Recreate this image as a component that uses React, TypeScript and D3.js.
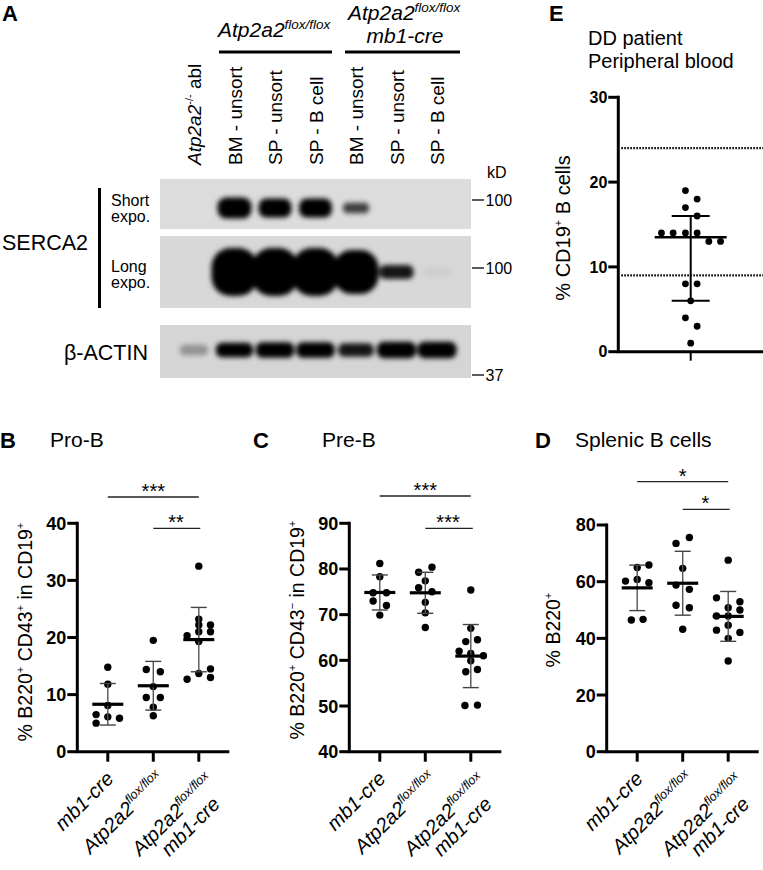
import React from 'react';
import * as d3 from 'd3';

const FONT = "'Liberation Sans', Arial, Helvetica, sans-serif";

// ---------- Panel A : western blot (band intensities, 0..1) ----------
const laneIds = ['ko', 'f_bm', 'f_sp', 'f_spb', 'c_bm', 'c_sp', 'c_spb'];
const laneNames = ['', 'BM - unsort', 'SP - unsort', 'SP - B cell', 'BM - unsort', 'SP - unsort', 'SP - B cell'];
const serca2Short = [0, 1.0, 0.92, 0.92, 0.42, 0, 0];
const serca2Long = [0, 1.0, 1.0, 1.0, 0.95, 0.36, 0.02];
const betaActin = [0.25, 0.82, 0.9, 0.9, 0.72, 0.95, 0.95];
const kdMarks = ['100', '100', '37'];

// ---------- Panel B : Pro-B (% B220+ CD43+ in CD19+) ----------
const proB_mb1 = [14.8, 11.8, 8.1, 6.5, 6.1, 5.85, 5.0];
const proB_mb1Slots = [0, 0, 0, -1, 0, 1, -1];
const proB_flox = [19.5, 14.4, 14.0, 11.4, 9.5, 9.5, 7.8, 6.3];
const proB_floxSlots = [0, -0.6, 0.6, 0, -0.6, 0.6, 0, 0];
const proB_cko = [32.5, 23.2, 22.2, 22.2, 21.0, 21.0, 20.3, 19.3, 14.5, 13.7, 13.0, 12.7];
const proB_ckoSlots = [0, 0, 0, 1, 0, 1, -1, 0, 1, 0, 1, -1];
const proBTicks = [0, 10, 20, 30, 40];

// ---------- Panel C : Pre-B (% B220+ CD43- in CD19+) ----------
const preB_mb1 = [81.2, 78.3, 74.8, 74.8, 73.0, 72.0, 69.9];
const preB_mb1Slots = [0, 0, -0.57, 0.57, -0.57, 0.57, 0];
const preB_flox = [80.4, 79.3, 77.4, 75.9, 75.0, 72.7, 70.4, 67.2];
const preB_floxSlots = [0.57, -0.57, 0, -0.57, 0.57, 0, 0, 0];
const preB_cko = [75.4, 67.0, 64.5, 64.1, 62.0, 61.5, 61.0, 59.9, 58.0, 57.5, 50.2, 50.1];
const preB_ckoSlots = [0, 0, 0.57, -0.43, -1, 0, 1.08, 0, 0.57, -0.43, 0.57, -0.5];
const preBTicks = [40, 50, 60, 70, 80, 90];

// ---------- Panel D : Splenic B cells (% B220+) ----------
const spl_mb1 = [65.9, 65.0, 60.8, 60.2, 59.6, 46.7, 46.5];
const spl_mb1Slots = [1, 0, 0, -1, 1, 0.5, -0.5];
const spl_flox = [75.6, 73.5, 64.7, 58.8, 57.3, 51.7, 50.8, 43.2];
const spl_floxSlots = [0.57, -0.57, 0, -0.57, 0.57, -0.57, 0.57, 0];
const spl_cko = [67.6, 54.3, 52.9, 50.8, 50.0, 47.9, 47.9, 44.6, 42.9, 42.1, 40.0, 32.0];
const spl_ckoSlots = [0, -1, 1, 0, 1, -1, 0, 0, -1, 1, 0, 0];
const splTicks = [0, 20, 40, 60, 80];

// ---------- Panel E : DD patient peripheral blood (% CD19+ B cells) ----------
const ddValues = [19, 18, 17, 16, 14, 14, 14, 14, 13, 13, 8, 8, 6, 4, 3, 1];
const ddSlots = [-0.45, 0.55, -0.45, 0.55, -2.5, -1.5, -0.45, 0.55, 1.55, 2.55, -0.45, 0.55, 0, -0.45, 0.55, 0];
const ddSummary = [13.5, 6, 16]; // median, lower, upper
const ddNormalRange = [24, 9];
const ddTicks = [0, 10, 20, 30];

const SLOT = 11.7;

type Part = { t: string; sup?: boolean };

function rich(parts: Part[], supSize: number, shift: number) {
  let cur = 0;
  return parts.map((p, i) => {
    const target = p.sup ? -shift : 0;
    const dy = target - cur;
    cur = target;
    return (
      <tspan key={i} dy={dy || undefined} fontSize={p.sup ? supSize : undefined}>
        {p.t}
      </tspan>
    );
  });
}

const floxLabel: Part[] = [{ t: 'Atp2a2' }, { t: 'flox/flox', sup: true }];

interface Series { values: number[]; slots: number[] }
interface Sig { a: number; b: number; y: number; label: string; extra?: number }
interface PanelCfg {
  axisX: number;
  yTop: number;
  yBottom: number;
  domain: [number, number];
  ticks: number[];
  series: Series[];
  sig: Sig[];
  yLabel: Part[];
  yLabelX: number;
  yLabelY: number;
  letter: string;
  letterX: number;
  title: string;
  titleX: number;
}

function CategoryLabels({ xs, y }: { xs: number[]; y: number }) {
  const fs = 20;
  return (
    <g fontStyle="italic" fontSize={fs} fill="#000">
      <g transform={`translate(${xs[0] + 7},${y}) rotate(-45)`}>
        <text textAnchor="end">mb1-cre</text>
      </g>
      <g transform={`translate(${xs[1] + 12},${y}) rotate(-45)`}>
        <text textAnchor="end">{rich(floxLabel, 12.5, 8)}</text>
      </g>
      <g transform={`translate(${xs[2] + 16},${y + 2}) rotate(-45)`}>
        <text textAnchor="end">{rich(floxLabel, 12.5, 8)}</text>
        <text textAnchor="end" x={-12} y={21}>mb1-cre</text>
      </g>
    </g>
  );
}

function ScatterPanel({ p }: { p: PanelCfg }) {
  const y = d3.scaleLinear().domain(p.domain).range([p.yBottom, p.yTop]);
  const x = d3.scalePoint<number>().domain([0, 1, 2]).range([p.axisX + 30.5, p.axisX + 121.5]);
  const axisEnd = p.axisX + 152;
  const xs = [0, 1, 2].map((i) => x(i) as number);
  return (
    <g>
      <text x={p.letterX} y={448} fontSize={22} fontWeight="bold">{p.letter}</text>
      <text x={p.titleX} y={447} fontSize={21}>{p.title}</text>
      {p.sig.map((s, i) => (
        <g key={i}>
          <line x1={xs[s.a]} x2={xs[s.b] + (s.extra || 0)} y1={s.y} y2={s.y} stroke="#222" strokeWidth={1.3} />
          <text x={(xs[s.a] + xs[s.b]) / 2} y={s.y + 1} fontSize={20} textAnchor="middle">{s.label}</text>
        </g>
      ))}
      {p.series.map((s, gi) => {
        const cx = xs[gi];
        const m = d3.mean(s.values) as number;
        const sd = d3.deviation(s.values) as number;
        return (
          <g key={gi}>
            {s.values.map((v, i) => (
              <circle key={i} cx={cx + s.slots[i] * SLOT} cy={y(v)} r={3.7} fill="#000" />
            ))}
            <line x1={cx} x2={cx} y1={y(m + sd)} y2={y(m - sd)} stroke="#555" strokeWidth={1.4} />
            <line x1={cx - 8} x2={cx + 8} y1={y(m + sd)} y2={y(m + sd)} stroke="#444" strokeWidth={1.4} />
            <line x1={cx - 8} x2={cx + 8} y1={y(m - sd)} y2={y(m - sd)} stroke="#444" strokeWidth={1.4} />
            <line x1={cx - 15.5} x2={cx + 15.5} y1={y(m)} y2={y(m)} stroke="#000" strokeWidth={3.2} />
          </g>
        );
      })}
      <line x1={p.axisX} x2={p.axisX} y1={p.yTop - 1.5} y2={p.yBottom} stroke="#000" strokeWidth={3} />
      <line x1={p.axisX - 1.5} x2={axisEnd} y1={p.yBottom} y2={p.yBottom} stroke="#000" strokeWidth={3} />
      {p.ticks.map((t) => (
        <g key={t}>
          <line x1={p.axisX - 10} x2={p.axisX} y1={y(t)} y2={y(t)} stroke="#000" strokeWidth={3} />
          <text x={p.axisX - 11} y={y(t)} dy="0.36em" textAnchor="end" fontSize={18} fontWeight="bold">{t}</text>
        </g>
      ))}
      {xs.map((cx, i) => (
        <line key={i} x1={cx} x2={cx} y1={p.yBottom} y2={p.yBottom + 10} stroke="#000" strokeWidth={3} />
      ))}
      <g transform={`translate(${p.yLabelX},${p.yLabelY}) rotate(-90)`}>
        <text textAnchor="middle" fontSize={19.5}>{rich(p.yLabel, 11, 8)}</text>
      </g>
      <CategoryLabels xs={xs} y={780} />
    </g>
  );
}

const panels: PanelCfg[] = [
  {
    axisX: 77.3, yTop: 523.3, yBottom: 751.7, domain: [0, 40], ticks: proBTicks,
    series: [
      { values: proB_mb1, slots: proB_mb1Slots },
      { values: proB_flox, slots: proB_floxSlots },
      { values: proB_cko, slots: proB_ckoSlots },
    ],
    sig: [
      { a: 0, b: 2, y: 497, label: '***' },
      { a: 1, b: 2, y: 528.3, label: '**', extra: 1.5 },
    ],
    yLabel: [{ t: '% B220' }, { t: '+', sup: true }, { t: ' CD43' }, { t: '+', sup: true }, { t: ' in CD19' }, { t: '+', sup: true }],
    yLabelX: 32, yLabelY: 632, letter: 'B', letterX: 0, title: 'Pro-B', titleX: 50,
  },
  {
    axisX: 349.3, yTop: 523.3, yBottom: 751.7, domain: [40, 90], ticks: preBTicks,
    series: [
      { values: preB_mb1, slots: preB_mb1Slots },
      { values: preB_flox, slots: preB_floxSlots },
      { values: preB_cko, slots: preB_ckoSlots },
    ],
    sig: [
      { a: 0, b: 2, y: 496, label: '***' },
      { a: 1, b: 2, y: 528.3, label: '***', extra: 2 },
    ],
    yLabel: [{ t: '% B220' }, { t: '+', sup: true }, { t: ' CD43' }, { t: '\u2212', sup: true }, { t: ' in CD19' }, { t: '+', sup: true }],
    yLabelX: 304, yLabelY: 630, letter: 'C', letterX: 253, title: 'Pre-B', titleX: 322,
  },
  {
    axisX: 606.7, yTop: 525, yBottom: 751.7, domain: [0, 80], ticks: splTicks,
    series: [
      { values: spl_mb1, slots: spl_mb1Slots },
      { values: spl_flox, slots: spl_floxSlots },
      { values: spl_cko, slots: spl_ckoSlots },
    ],
    sig: [
      { a: 0, b: 2, y: 481.7, label: '*' },
      { a: 1, b: 2, y: 509.3, label: '*', extra: 1.5 },
    ],
    yLabel: [{ t: '% B220' }, { t: '+', sup: true }],
    yLabelX: 560, yLabelY: 630, letter: 'D', letterX: 535, title: 'Splenic B cells', titleX: 575,
  },
];

function PanelE() {
  const axisX = 618.3;
  const y = d3.scaleLinear().domain([0, 30]).range([351.7, 97.3]);
  const cx = 690.7;
  const [med, lo, hi] = ddSummary;
  return (
    <g>
      <text x={549} y={21} fontSize={22} fontWeight="bold">E</text>
      <text x={588} y={45} fontSize={20}>DD patient</text>
      <text x={588} y={68} fontSize={20}>Peripheral blood</text>
      {ddNormalRange.map((v) => (
        <line key={v} x1={axisX + 3} x2={763} y1={y(v)} y2={y(v)} stroke="#000" strokeWidth={2.2} strokeDasharray="1.6,1.4" />
      ))}
      {ddValues.map((v, i) => (
        <circle key={i} cx={cx + ddSlots[i] * SLOT} cy={y(v)} r={3.4} fill="#000" />
      ))}
      <line x1={cx} x2={cx} y1={y(hi)} y2={y(lo)} stroke="#000" strokeWidth={2} />
      <line x1={cx - 19} x2={cx + 19} y1={y(hi)} y2={y(hi)} stroke="#000" strokeWidth={2} />
      <line x1={cx - 19} x2={cx + 19} y1={y(lo)} y2={y(lo)} stroke="#000" strokeWidth={2} />
      <line x1={cx - 36} x2={cx + 36} y1={y(med)} y2={y(med)} stroke="#000" strokeWidth={2.6} />
      <line x1={axisX} x2={axisX} y1={y(30) - 1.5} y2={y(0)} stroke="#000" strokeWidth={3} />
      <line x1={axisX - 1.5} x2={763} y1={y(0)} y2={y(0)} stroke="#000" strokeWidth={3} />
      {ddTicks.map((t) => (
        <g key={t}>
          <line x1={axisX - 10} x2={axisX} y1={y(t)} y2={y(t)} stroke="#000" strokeWidth={3} />
          <text x={axisX - 11} y={y(t)} dy="0.36em" textAnchor="end" fontSize={16} fontWeight="bold">{t}</text>
        </g>
      ))}
      <line x1={cx} x2={cx} y1={y(0)} y2={y(0) + 9} stroke="#000" strokeWidth={2} />
      <g transform={`translate(570,228) rotate(-90)`}>
        <text textAnchor="middle" fontSize={20}>{rich([{ t: '% CD19' }, { t: '+', sup: true }, { t: ' B cells' }], 11, 8)}</text>
      </g>
    </g>
  );
}

interface Blot { key: string; y: number; h: number; cy: number; data: number[]; w: number; hMin: number; hMax: number; gain: number; bg: string }

const blots: Blot[] = [
  { key: 'short', y: 179, h: 50, cy: 208, data: serca2Short, w: 34, hMin: 8, hMax: 21, gain: 1.7, bg: '#dcdcdc' },
  { key: 'long', y: 236, h: 72, cy: 272, data: serca2Long, w: 46, hMin: 9, hMax: 48, gain: 2.5, bg: '#d8d8d8' },
  { key: 'actin', y: 325, h: 53, cy: 350, data: betaActin, w: 40, hMin: 10, hMax: 17, gain: 1.25, bg: '#d5d5d5' },
];

function PanelA() {
  const lane = d3.scalePoint<string>().domain(laneIds).range([194, 437]);
  const blotX = 160;
  const blotW = 311;
  return (
    <g>
      <defs>
        <filter id="bandBlur" x="-50%" y="-50%" width="200%" height="200%">
          <feGaussianBlur stdDeviation="2.6" />
        </filter>
        {blots.map((b) => (
          <clipPath key={b.key} id={`clip-${b.key}`}>
            <rect x={blotX} y={b.y} width={blotW} height={b.h} />
          </clipPath>
        ))}
      </defs>
      <text x={2} y={21} fontSize={22} fontWeight="bold">A</text>
      {/* group headers */}
      <text x={218} y={37} fontSize={21} fontStyle="italic">{rich(floxLabel, 13.5, 8)}</text>
      <rect x={219} y={50.5} width={113} height={3} fill="#000" />
      <text x={348} y={20} fontSize={21} fontStyle="italic">{rich(floxLabel, 13.5, 8)}</text>
      <text x={405} y={43} fontSize={21} fontStyle="italic" textAnchor="middle">mb1-cre</text>
      <rect x={345} y={50.5} width={115} height={3} fill="#000" />
      {/* lane labels */}
      {laneIds.map((id, i) => (
        <g key={id} transform={`translate(${(lane(id) as number) + 7},165) rotate(-90)`}>
          {i === 0 ? (
            <text fontSize={19}>
              <tspan fontStyle="italic">Atp2a2</tspan>
              <tspan fontSize={11} dy={-8}>-/-</tspan>
              <tspan dy={8}> abl</tspan>
            </text>
          ) : (
            <text fontSize={19}>{laneNames[i]}</text>
          )}
        </g>
      ))}
      {/* blots */}
      {blots.map((b) => (
        <g key={b.key}>
          <rect x={blotX} y={b.y} width={blotW} height={b.h} fill={b.bg} />
          <g clipPath={`url(#clip-${b.key})`}>
            <g filter="url(#bandBlur)">
              {b.data.map((v, i) => {
                if (v <= 0) return null;
                const bw = b.w * (0.6 + 0.4 * v);
                const bh = b.hMin + (b.hMax - b.hMin) * v * v;
                const cx = lane(laneIds[i]) as number;
                return (
                  <rect key={i} x={cx - bw / 2} y={b.cy - bh / 2} width={bw} height={bh}
                    rx={Math.min(bw, bh) / 2.4} fill="#000" opacity={Math.min(1, v * b.gain)} />
                );
              })}
            </g>
          </g>
        </g>
      ))}
      {/* left labels */}
      <rect x={98} y={188} width={3} height={120} fill="#000" />
      <text x={111} y={206} fontSize={16}>Short</text>
      <text x={111} y={222} fontSize={16}>expo.</text>
      <text x={111} y={272} fontSize={16}>Long</text>
      <text x={111} y={288} fontSize={16}>expo.</text>
      <text x={2} y={250} fontSize={21.5}>SERCA2</text>
      <text x={148} y={360} fontSize={21.5} textAnchor="end">β-ACTIN</text>
      {/* kD markers */}
      <text x={487} y={178} fontSize={16}>kD</text>
      {[200, 268, 375].map((yy, i) => (
        <g key={i}>
          <line x1={472} x2={484} y1={yy} y2={yy} stroke="#000" strokeWidth={1.3} />
          <text x={485.5} y={yy} dy="0.36em" fontSize={16}>{kdMarks[i]}</text>
        </g>
      ))}
    </g>
  );
}

export default function App() {
  return (
    <svg width={763} height={870} viewBox="0 0 763 870"
      style={{ position: 'absolute', left: 0, top: 0, background: '#fff' }}
      fontFamily={FONT}>
      <rect x={0} y={0} width={763} height={870} fill="#fff" />
      <PanelA />
      {panels.map((p, i) => (
        <ScatterPanel key={i} p={p} />
      ))}
      <PanelE />
    </svg>
  );
}
